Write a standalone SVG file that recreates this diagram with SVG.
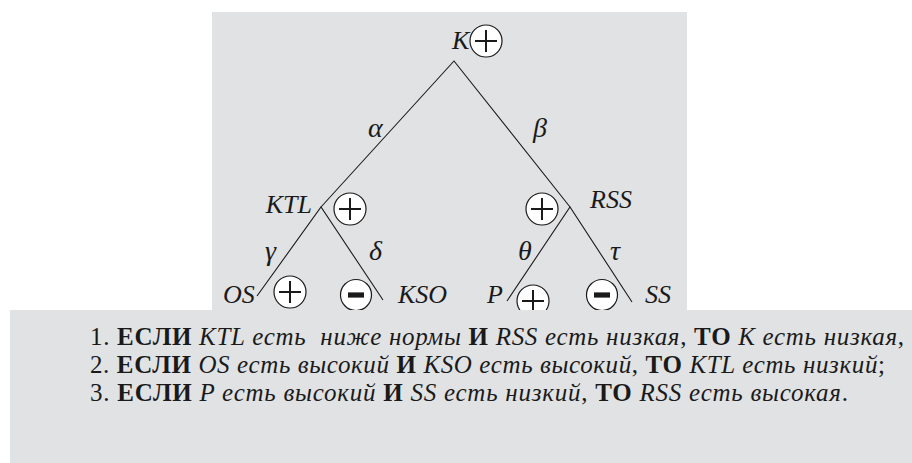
<svg xmlns="http://www.w3.org/2000/svg" width="912" height="463" viewBox="0 0 912 463">
<style>
.panel{fill:#e1e2e4;stroke:none}
.edge{stroke:#1a1a1a;stroke-width:1.1;fill:none}
.lbl{font-family:"Liberation Serif","Times New Roman",serif;font-style:italic;font-size:26px;fill:#1a1a1a}
.gr{font-size:28px}
.circ{fill:#ffffff;stroke:#1a1a1a;stroke-width:1.2}
.plus{stroke:#1a1a1a;stroke-width:2;fill:none}
.minus{fill:#1a1a1a}
.rule{font-family:"Liberation Serif","Times New Roman",serif;font-size:25px;fill:#1a1a1a;white-space:pre}
.b{font-weight:bold}
.i{font-style:italic}
</style>
<defs>
<g id="plusSym"><circle class="circ" cx="0" cy="0" r="16"/><path class="plus" d="M-11,0H11M0,-11V11"/></g>
<g id="minusSym"><circle class="circ" cx="0" cy="0" r="15.5"/><rect class="minus" x="-8" y="-2.6" width="16" height="5.2"/></g>
</defs>
<rect class="panel" x="212" y="12" width="475" height="300"/>
<g id="connectors">
<path class="edge" d="M321,207L454,61L570,207"/>
<path class="edge" d="M257,296L321,207L383,300"/>
<path class="edge" d="M507,301L570,207L632,302"/>
<text class="lbl gr" x="368" y="137">α</text>
<text class="lbl gr" x="533" y="137">β</text>
<text class="lbl gr" x="265" y="260">γ</text>
<text class="lbl gr" x="369" y="260">δ</text>
<text class="lbl gr" x="518" y="260">θ</text>
<text class="lbl gr" x="610" y="260">τ</text>
</g>
<g id="node-K"><text class="lbl" x="452" y="49">K</text><use href="#plusSym" x="486" y="41"/></g>
<g id="node-KTL"><text class="lbl" x="312" y="213" text-anchor="end">KTL</text><use href="#plusSym" x="350" y="209"/></g>
<g id="node-RSS"><text class="lbl" x="590" y="208">RSS</text><use href="#plusSym" x="542" y="209"/></g>
<g id="node-OS"><text class="lbl" x="223" y="303">OS</text><use href="#plusSym" x="290" y="292"/></g>
<g id="node-KSO"><text class="lbl" x="398" y="303">KSO</text><use href="#minusSym" x="356" y="295"/></g>
<g id="node-P"><text class="lbl" x="487" y="303">P</text><use href="#plusSym" x="533" y="301"/></g>
<g id="node-SS"><text class="lbl" x="645" y="303">SS</text><use href="#minusSym" x="602" y="295"/></g>
<rect class="panel" x="10" y="310" width="902" height="153"/>
<g id="rules">
<text class="rule" x="90" y="345" textLength="814" lengthAdjust="spacing">1. <tspan class="b">ЕСЛИ</tspan><tspan class="i"> KTL есть  ниже нормы</tspan><tspan class="b"> И</tspan><tspan class="i"> RSS есть низкая</tspan>, <tspan class="b">ТО</tspan><tspan class="i"> К есть низкая</tspan>,</text>
<text class="rule" x="90" y="373" textLength="795" lengthAdjust="spacing">2. <tspan class="b">ЕСЛИ</tspan><tspan class="i"> OS есть высокий</tspan><tspan class="b"> И</tspan><tspan class="i"> KSO есть высокий</tspan>, <tspan class="b">ТО</tspan><tspan class="i"> KTL есть низкий</tspan>;</text>
<text class="rule" x="90" y="401" textLength="758" lengthAdjust="spacing">3. <tspan class="b">ЕСЛИ</tspan><tspan class="i"> P есть высокий</tspan><tspan class="b"> И</tspan><tspan class="i"> SS есть низкий</tspan>, <tspan class="b">ТО</tspan><tspan class="i"> RSS есть высокая</tspan>.</text>
</g>
</svg>
